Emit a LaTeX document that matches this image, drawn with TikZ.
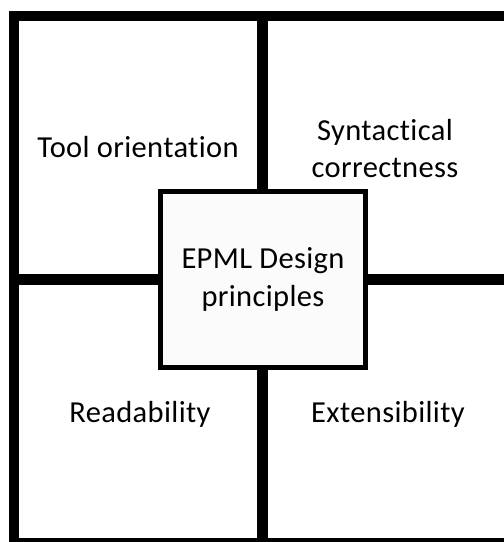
\documentclass[tikz,border=0pt]{standalone}
\usepackage{fontspec}
\setmainfont{Carlito}[Ligatures=NoCommon,LetterSpace=1.2]
\begin{document}
\begin{tikzpicture}[x=1pt,y=-1pt,
  grid/.style={line width=10.5pt,black},
  celltext/.style={align=center,font=\fontsize{30.5}{37}\selectfont,inner sep=0pt,anchor=base},
  centerbox/.style={draw,line width=5.5pt,fill=black!1.5,minimum width=205pt,minimum height=176pt,
    align=center,font=\fontsize{30.5}{37.5}\selectfont,inner sep=0pt}]
\useasboundingbox (0,0) rectangle (504,542);
\coordinate (tl) at (14,16);
\coordinate (br) at (515,543.5);
\coordinate (vtop) at (262.5,16);
\coordinate (vbot) at (262.5,543.5);
\coordinate (hleft) at (14,279.5);
\coordinate (hright) at (515,279.5);
\draw[grid] (tl) rectangle (br);
\draw[grid] (vtop) -- (vbot);
\draw[grid] (hleft) -- (hright);
\node[centerbox] (center) at (263,279.5) {EPML Design\\principles};
\node[celltext] (tool) at (138,157.3) {Tool orientation};
\node[celltext] (syn) at (385,177.5) {Syntactical\\correctness};
\node[celltext] (read) at (140,422.7) {Readability};
\node[celltext] (ext) at (388,422.7) {Extensibility};
\end{tikzpicture}
\end{document}
